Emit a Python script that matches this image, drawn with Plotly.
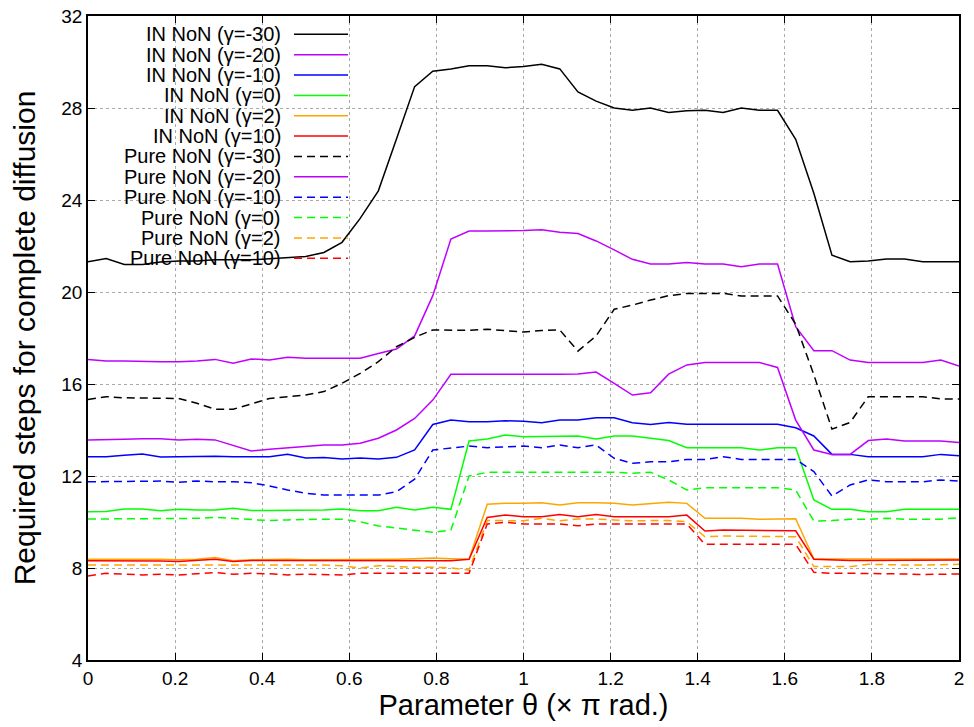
import plotly.graph_objects as go

THETA = [0, 0.0417, 0.0833, 0.125, 0.1667, 0.2083, 0.25, 0.2917, 0.3333, 0.375,
         0.4167, 0.4583, 0.5, 0.5417, 0.5833, 0.625, 0.6667, 0.7083, 0.75, 0.7917,
         0.8333, 0.875, 0.9167, 0.9583, 1.0, 1.0417, 1.0833, 1.125, 1.1667, 1.2083,
         1.25, 1.2917, 1.3333, 1.375, 1.4167, 1.4583, 1.5, 1.5417, 1.5833, 1.625,
         1.6667, 1.7083, 1.75, 1.7917, 1.8333, 1.875, 1.9167, 1.9583, 2.0]

IN_M30 = [21.32, 21.46, 21.2, 21.2, 21.3, 21.35, 21.35, 21.4, 21.4, 21.4,
          21.45, 21.49, 21.54, 21.72, 22.16, 23.2, 24.4, 26.65, 28.93, 29.6,
          29.7, 29.84, 29.84, 29.75, 29.8, 29.9, 29.7, 28.7, 28.3, 28.0,
          27.9, 28.0, 27.8, 27.88, 27.9, 27.8, 28.0, 27.9, 27.9, 26.64,
          24.29, 21.6, 21.32, 21.35, 21.43, 21.43, 21.32, 21.32, 21.32]
IN_M20 = [17.07, 17.0, 17.0, 16.97, 16.97, 16.97, 17.0, 17.07, 16.9, 17.09,
          17.04, 17.16, 17.12, 17.12, 17.12, 17.12, 17.33, 17.52, 18.09, 19.84,
          22.3, 22.65, 22.65, 22.65, 22.67, 22.71, 22.6, 22.54, 22.22, 21.83,
          21.42, 21.22, 21.22, 21.28, 21.22, 21.22, 21.1, 21.22, 21.22, 18.49,
          17.45, 17.45, 17.04, 16.93, 16.93, 16.93, 16.93, 17.04, 16.78]
IN_M10 = [12.84, 12.84, 12.9, 12.96, 12.83, 12.85, 12.86, 12.86, 12.84, 12.85,
          12.84, 12.94, 12.78, 12.8, 12.74, 12.78, 12.74, 12.81, 13.13, 14.24,
          14.43, 14.36, 14.36, 14.4, 14.38, 14.32, 14.43, 14.43, 14.53, 14.53,
          14.32, 14.24, 14.33, 14.25, 14.25, 14.25, 14.25, 14.25, 14.25, 14.1,
          13.74, 12.94, 12.94, 12.84, 12.84, 12.84, 12.84, 12.94, 12.88]
IN_0 = [10.45, 10.46, 10.57, 10.57, 10.49, 10.55, 10.52, 10.52, 10.6, 10.5,
        10.5, 10.5, 10.52, 10.52, 10.57, 10.49, 10.49, 10.64, 10.52, 10.64,
        10.55, 13.52, 13.61, 13.78, 13.71, 13.71, 13.74, 13.74, 13.61, 13.74,
        13.74, 13.64, 13.54, 13.23, 13.23, 13.23, 13.23, 13.13, 13.23, 13.23,
        10.96, 10.55, 10.55, 10.45, 10.45, 10.55, 10.55, 10.55, 10.55]
IN_2 = [8.38, 8.38, 8.38, 8.4, 8.38, 8.36, 8.38, 8.46, 8.32, 8.36,
        8.38, 8.38, 8.36, 8.36, 8.38, 8.36, 8.36, 8.38, 8.4, 8.43,
        8.4, 8.38, 10.77, 10.81, 10.81, 10.84, 10.74, 10.84, 10.84, 10.81,
        10.74, 10.81, 10.86, 10.81, 10.16, 10.16, 10.16, 10.12, 10.14, 10.14,
        8.39, 8.39, 8.39, 8.39, 8.39, 8.39, 8.39, 8.39, 8.39]
IN_10 = [8.32, 8.32, 8.32, 8.32, 8.3, 8.28, 8.32, 8.38, 8.28, 8.33,
         8.33, 8.33, 8.33, 8.33, 8.33, 8.35, 8.35, 8.35, 8.35, 8.35,
         8.32, 8.38, 10.2, 10.3, 10.23, 10.23, 10.33, 10.23, 10.33, 10.23,
         10.23, 10.23, 10.23, 10.3, 9.61, 9.65, 9.65, 9.62, 9.65, 9.62,
         8.38, 8.35, 8.33, 8.33, 8.33, 8.33, 8.32, 8.35, 8.35]
PURE_M30 = [15.33, 15.45, 15.4, 15.4, 15.4, 15.37, 15.16, 14.9, 14.9, 15.13,
            15.37, 15.45, 15.52, 15.67, 16.03, 16.46, 16.97, 17.62, 18.03, 18.35,
            18.33, 18.33, 18.38, 18.33, 18.26, 18.33, 18.35, 17.43, 18.09, 19.25,
            19.43, 19.65, 19.84, 19.94, 19.94, 19.94, 19.83, 19.83, 19.83, 18.6,
            16.4, 14.04, 14.33, 15.45, 15.45, 15.45, 15.45, 15.35, 15.35]
PURE_M20 = [13.57, 13.57, 13.6, 13.62, 13.62, 13.57, 13.6, 13.57, 13.32, 13.09,
            13.16, 13.23, 13.3, 13.35, 13.35, 13.42, 13.64, 14.0, 14.5, 15.3,
            16.42, 16.42, 16.42, 16.39, 16.4, 16.42, 16.42, 16.43, 16.52, 16.03,
            15.52, 15.62, 16.43, 16.83, 16.93, 16.93, 16.93, 16.93, 16.72, 14.43,
            13.13, 12.94, 12.94, 13.54, 13.61, 13.52, 13.52, 13.52, 13.46]
PURE_M10 = [11.75, 11.75, 11.78, 11.78, 11.78, 11.73, 11.78, 11.75, 11.75, 11.71,
            11.57, 11.39, 11.25, 11.17, 11.17, 11.14, 11.17, 11.32, 11.86, 13.13,
            13.23, 13.3, 13.23, 13.27, 13.3, 13.23, 13.35, 13.23, 13.35, 12.77,
            12.55, 12.62, 12.62, 12.72, 12.72, 12.84, 12.72, 12.72, 12.72, 12.72,
            12.19, 11.13, 11.61, 11.83, 11.75, 11.75, 11.75, 11.83, 11.78]
PURE_0 = [10.13, 10.13, 10.16, 10.16, 10.16, 10.13, 10.16, 10.2, 10.16, 10.09,
          10.06, 10.09, 10.12, 10.12, 10.12, 10.01, 9.83, 9.73, 9.62, 9.55,
          9.65, 12.0, 12.16, 12.16, 12.19, 12.16, 12.16, 12.16, 12.16, 12.16,
          12.12, 12.16, 11.83, 11.39, 11.49, 11.49, 11.49, 11.49, 11.49, 11.39,
          10.04, 10.06, 10.12, 10.12, 10.16, 10.12, 10.12, 10.12, 10.19]
PURE_2 = [8.13, 8.13, 8.13, 8.15, 8.13, 8.13, 8.13, 8.13, 8.13, 8.13,
          8.13, 8.13, 8.13, 8.13, 8.1, 8.0, 8.1, 8.05, 8.03, 8.03,
          8.0, 7.91, 10.06, 10.06, 10.05, 10.16, 10.05, 10.13, 10.13, 10.09,
          10.05, 10.06, 10.06, 10.01, 9.36, 9.39, 9.39, 9.36, 9.36, 9.36,
          8.06, 8.06, 8.06, 8.16, 8.13, 8.13, 8.13, 8.16, 8.16]
PURE_10 = [7.65, 7.77, 7.73, 7.7, 7.73, 7.7, 7.75, 7.8, 7.73, 7.77,
           7.75, 7.7, 7.73, 7.73, 7.7, 7.77, 7.77, 7.77, 7.77, 7.77,
           7.77, 7.77, 9.91, 9.99, 9.91, 9.91, 9.91, 9.84, 9.91, 9.91,
           9.91, 9.91, 9.91, 9.91, 9.03, 9.03, 9.03, 9.03, 9.03, 9.03,
           7.81, 7.77, 7.77, 7.77, 7.74, 7.74, 7.72, 7.72, 7.74]

NAMES = ["IN NoN (γ=-30)", "IN NoN (γ=-20)", "IN NoN (γ=-10)", "IN NoN (γ=0)",
         "IN NoN (γ=2)", "IN NoN (γ=10)", "Pure NoN (γ=-30)", "Pure NoN (γ=-20)",
         "Pure NoN (γ=-10)", "Pure NoN (γ=0)", "Pure NoN (γ=2)", "Pure NoN (γ=10)"]
SERIES = [IN_M30, IN_M20, IN_M10, IN_0, IN_2, IN_10,
          PURE_M30, PURE_M20, PURE_M10, PURE_0, PURE_2, PURE_10]
COLORS = ["#000000", "#c000ff", "#0000ff", "#00ff00", "#ffa500", "#ff0000",
          "#000000", "#c000ff", "#0000ff", "#00ff00", "#ffa500", "#ff0000"]
DASHES = ["solid"] * 6 + ["8px,5px", "solid", "8px,5px", "8px,5px", "8px,5px", "8px,5px"]

X_TICKS = [0, 0.2, 0.4, 0.6, 0.8, 1.0, 1.2, 1.4, 1.6, 1.8, 2.0]
X_LABELS = ["0", "0.2", "0.4", "0.6", "0.8", "1", "1.2", "1.4", "1.6", "1.8", "2"]
Y_TICKS = [4, 8, 12, 16, 20, 24, 28, 32]

FONT = "Liberation Sans, Arial, Helvetica, sans-serif"

fig = go.Figure()
for name, ys, col, dash in zip(NAMES, SERIES, COLORS, DASHES):
    fig.add_trace(go.Scatter(x=THETA, y=ys, mode="lines", name=name,
                             line=dict(color=col, width=1.5, dash=dash),
                             showlegend=False))

# gnuplot-style key: right-aligned text with line sample on its right
L, R, T, B = 88, 959, 16, 660
W, H = R - L, B - T
row0, step = 34.3, 20.36
for i, (name, col, dash) in enumerate(zip(NAMES, COLORS, DASHES)):
    py = row0 + step * i
    yp = (B - py) / H
    fig.add_annotation(x=(283 - L) / W, y=yp, xref="paper", yref="paper",
                       text=name, showarrow=False, xanchor="right", yanchor="middle",
                       font=dict(family=FONT, size=20, color="#000000"))
    fig.add_shape(type="line", xref="paper", yref="paper",
                  x0=(294 - L) / W, x1=(348 - L) / W, y0=yp, y1=yp,
                  line=dict(color=col, width=1.5, dash=dash))

axis_common = dict(showline=True, linecolor="#000000", linewidth=1.5, mirror="all",
                   ticks="inside", ticklen=7, tickcolor="#000000", tickwidth=1,
                   showgrid=True, gridcolor="#aaaaaa", griddash="dot", gridwidth=1,
                   zeroline=False, automargin=False,
                   tickfont=dict(family=FONT, size=19, color="#000000"))

fig.update_xaxes(range=[0, 2], tickvals=X_TICKS, ticktext=X_LABELS,
                 title=dict(text="Parameter θ (× π rad.)", standoff=0,
                            font=dict(family=FONT, size=29, color="#000000")),
                 **axis_common)
fig.update_yaxes(range=[4, 32], tickvals=Y_TICKS,
                 title=dict(text="Required steps for complete diffusion", standoff=17,
                            font=dict(family=FONT, size=30, color="#000000")),
                 **axis_common)

fig.update_layout(width=974, height=727, plot_bgcolor="#ffffff", paper_bgcolor="#ffffff",
                  margin=dict(l=L, r=974 - R, t=T, b=727 - B, autoexpand=False),
                  font=dict(family=FONT, color="#000000"))

fig.write_html("out.html", config={"displayModeBar": False},
               post_script="document.body.style.margin='0px';document.body.style.padding='0px';")
